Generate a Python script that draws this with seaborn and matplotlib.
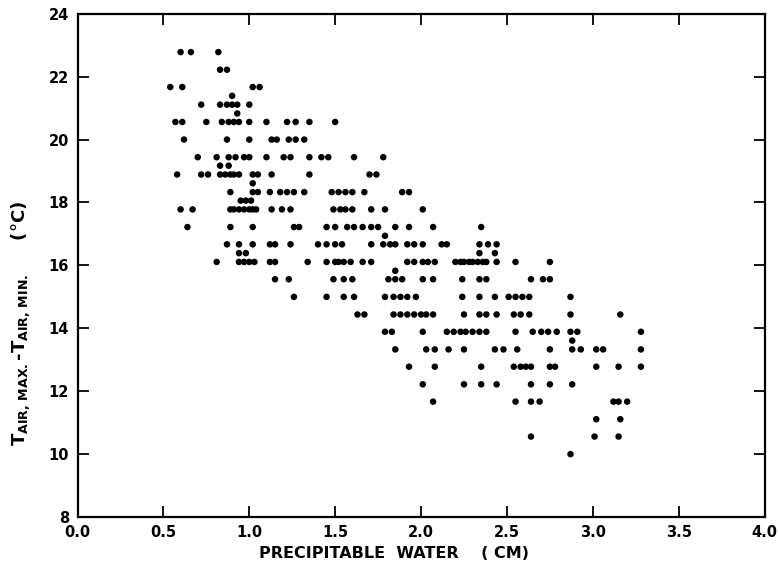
import matplotlib
matplotlib.use("Agg")
import matplotlib.pyplot as plt
import seaborn as sns
import pandas as pd

# Precipitable water (cm) and diurnal air temperature range (deg C), read row by row
water_cm = [
    0.60, 0.66, 0.82,
    0.83, 0.87,
    0.54, 0.61, 1.02, 1.06,
    0.90,
    0.72, 0.83, 0.87, 0.90, 0.93, 1.00,
    0.93,
    0.57, 0.61, 0.75, 0.84, 0.88, 0.91, 0.94, 1.00, 1.10, 1.22, 1.27, 1.35, 1.50,
    0.62, 0.87, 1.00, 1.13, 1.16, 1.23, 1.27, 1.32,
    0.70, 0.81, 0.88, 0.92, 0.97, 1.00, 1.10, 1.20, 1.24, 1.35, 1.42, 1.46, 1.61, 1.78,
    0.83, 0.88,
    0.58, 0.72, 0.76, 0.83, 0.86, 0.89, 0.91, 0.94, 1.02, 1.05, 1.13, 1.35, 1.70, 1.74,
    1.02,
    0.89, 1.02, 1.05, 1.12, 1.18, 1.22, 1.26, 1.32, 1.48, 1.52, 1.56, 1.60, 1.67, 1.89, 1.93,
    0.95, 0.98, 1.01,
    0.60, 0.67, 0.89, 0.91, 0.94, 0.97, 1.00, 1.02, 1.04, 1.13, 1.19, 1.24, 1.49, 1.53, 1.56,
    1.60, 1.71, 1.79, 2.01,
    0.64, 0.89, 1.02, 1.26, 1.29, 1.45, 1.50, 1.57, 1.61, 1.66, 1.71, 1.75, 1.85, 1.93, 2.07,
    2.35,
    1.79,
    0.87, 0.94, 1.02, 1.12, 1.15, 1.24, 1.40, 1.45, 1.50, 1.54, 1.71, 1.78, 1.82, 1.85, 1.92,
    1.96, 2.01, 2.12, 2.15, 2.34, 2.39, 2.44,
    0.94, 0.98, 2.34, 2.43,
    0.81, 0.94, 0.97, 1.00, 1.03, 1.12, 1.15, 1.34, 1.45, 1.50, 1.52, 1.55, 1.59, 1.66, 1.71,
    1.92, 1.96, 2.01, 2.04, 2.08, 2.20, 2.23, 2.25, 2.28, 2.30, 2.33, 2.36, 2.38, 2.44, 2.55,
    2.75,
    1.85,
    1.15, 1.23, 1.49, 1.55, 1.60, 1.81, 1.85, 1.89, 2.01, 2.07, 2.24, 2.34, 2.38, 2.64, 2.71,
    2.75,
    1.26, 1.45, 1.55, 1.61, 1.79, 1.84, 1.88, 1.92, 1.97, 2.24, 2.34, 2.43, 2.51, 2.55, 2.59,
    2.63, 2.87,
    1.63, 1.67, 1.84, 1.88, 1.92, 1.96, 2.00, 2.03, 2.07, 2.25, 2.34, 2.38, 2.44, 2.54, 2.58,
    2.63, 2.87, 3.16,
    1.79, 1.83, 2.01, 2.15, 2.19, 2.23, 2.26, 2.30, 2.34, 2.38, 2.55, 2.65, 2.70, 2.74, 2.79,
    2.87, 2.91, 3.28,
    2.88,
    1.85, 2.03, 2.08, 2.16, 2.25, 2.43, 2.48, 2.56, 2.75, 2.88, 2.93, 3.02, 3.06, 3.28,
    1.93, 2.08, 2.35, 2.54, 2.58, 2.61, 2.64, 2.75, 2.78, 3.02, 3.15, 3.28,
    2.01, 2.25, 2.35, 2.44, 2.64, 2.75, 2.88,
    2.07, 2.55, 2.64, 2.69, 3.12, 3.15, 3.20,
    3.02, 3.16,
    2.64, 3.01, 3.15,
    2.87,
]

temp_range_c = [
    22.78, 22.78, 22.78,
    22.22, 22.22,
    21.67, 21.67, 21.67, 21.67,
    21.39,
    21.11, 21.11, 21.11, 21.11, 21.11, 21.11,
    20.83,
    20.56, 20.56, 20.56, 20.56, 20.56, 20.56, 20.56, 20.56, 20.56, 20.56, 20.56, 20.56, 20.56,
    20.00, 20.00, 20.00, 20.00, 20.00, 20.00, 20.00, 20.00,
    19.44, 19.44, 19.44, 19.44, 19.44, 19.44, 19.44, 19.44, 19.44, 19.44, 19.44, 19.44, 19.44, 19.44,
    19.17, 19.17,
    18.89, 18.89, 18.89, 18.89, 18.89, 18.89, 18.89, 18.89, 18.89, 18.89, 18.89, 18.89, 18.89, 18.89,
    18.61,
    18.33, 18.33, 18.33, 18.33, 18.33, 18.33, 18.33, 18.33, 18.33, 18.33, 18.33, 18.33, 18.33, 18.33, 18.33,
    18.06, 18.06, 18.06,
    17.78, 17.78, 17.78, 17.78, 17.78, 17.78, 17.78, 17.78, 17.78, 17.78, 17.78, 17.78, 17.78, 17.78, 17.78,
    17.78, 17.78, 17.78, 17.78,
    17.22, 17.22, 17.22, 17.22, 17.22, 17.22, 17.22, 17.22, 17.22, 17.22, 17.22, 17.22, 17.22, 17.22, 17.22,
    17.22,
    16.94,
    16.67, 16.67, 16.67, 16.67, 16.67, 16.67, 16.67, 16.67, 16.67, 16.67, 16.67, 16.67, 16.67, 16.67, 16.67,
    16.67, 16.67, 16.67, 16.67, 16.67, 16.67, 16.67,
    16.39, 16.39, 16.39, 16.39,
    16.11, 16.11, 16.11, 16.11, 16.11, 16.11, 16.11, 16.11, 16.11, 16.11, 16.11, 16.11, 16.11, 16.11, 16.11,
    16.11, 16.11, 16.11, 16.11, 16.11, 16.11, 16.11, 16.11, 16.11, 16.11, 16.11, 16.11, 16.11, 16.11, 16.11,
    16.11,
    15.83,
    15.56, 15.56, 15.56, 15.56, 15.56, 15.56, 15.56, 15.56, 15.56, 15.56, 15.56, 15.56, 15.56, 15.56, 15.56,
    15.56,
    15.00, 15.00, 15.00, 15.00, 15.00, 15.00, 15.00, 15.00, 15.00, 15.00, 15.00, 15.00, 15.00, 15.00, 15.00,
    15.00, 15.00,
    14.44, 14.44, 14.44, 14.44, 14.44, 14.44, 14.44, 14.44, 14.44, 14.44, 14.44, 14.44, 14.44, 14.44, 14.44,
    14.44, 14.44, 14.44,
    13.89, 13.89, 13.89, 13.89, 13.89, 13.89, 13.89, 13.89, 13.89, 13.89, 13.89, 13.89, 13.89, 13.89, 13.89,
    13.89, 13.89, 13.89,
    13.61,
    13.33, 13.33, 13.33, 13.33, 13.33, 13.33, 13.33, 13.33, 13.33, 13.33, 13.33, 13.33, 13.33, 13.33,
    12.78, 12.78, 12.78, 12.78, 12.78, 12.78, 12.78, 12.78, 12.78, 12.78, 12.78, 12.78,
    12.22, 12.22, 12.22, 12.22, 12.22, 12.22, 12.22,
    11.67, 11.67, 11.67, 11.67, 11.67, 11.67, 11.67,
    11.11, 11.11,
    10.56, 10.56, 10.56,
    10.00,
]

x_ticks = [0.0, 0.5, 1.0, 1.5, 2.0, 2.5, 3.0, 3.5, 4.0]
x_tick_labels = ["0.0", "0.5", "1.0", "1.5", "2.0", "2.5", "3.0", "3.5", "4.0"]
y_ticks = [8, 10, 12, 14, 16, 18, 20, 22, 24]
y_tick_labels = ["8", "10", "12", "14", "16", "18", "20", "22", "24"]

df = pd.DataFrame({"water": water_cm, "trange": temp_range_c})

sns.set_style("ticks")
plt.rcParams["font.family"] = ["DejaVu Sans"]
plt.rcParams["mathtext.fontset"] = "dejavusans"

fig = plt.figure(figsize=(7.79, 5.72), dpi=100)
ax = fig.add_axes([0.0995, 0.096, 0.882, 0.880])

sns.scatterplot(data=df, x="water", y="trange", ax=ax, color="black",
                s=22, linewidth=0, edgecolor="none", legend=False)

ax.set_xlim(0, 4.0)
ax.set_ylim(8, 24)
ax.set_xticks(x_ticks)
ax.set_xticklabels(x_tick_labels)
ax.set_yticks(y_ticks)
ax.set_yticklabels(y_tick_labels)

for sp in ax.spines.values():
    sp.set_linewidth(1.6)
    sp.set_color("black")

ax.tick_params(direction="in", length=8, width=1.3, colors="black",
               labelsize=10.5, pad=6, top=True, right=True,
               labeltop=False, labelright=False)
for lab in ax.get_xticklabels() + ax.get_yticklabels():
    lab.set_fontweight("bold")

ax.set_xlabel("PRECIPITABLE  WATER    ( CM)", fontsize=11.5, fontweight="bold",
              color="black")
ax.xaxis.set_label_coords(0.46, -0.058)
ax.set_ylabel(r"T$_{\mathbf{AIR,\,MAX.}}$-T$_{\mathbf{AIR,\,MIN.}}$     (°C)",
              fontsize=13, fontweight="bold", color="black")
ax.yaxis.set_label_coords(-0.066, 0.385)

fig.savefig("out.png", dpi=100)
